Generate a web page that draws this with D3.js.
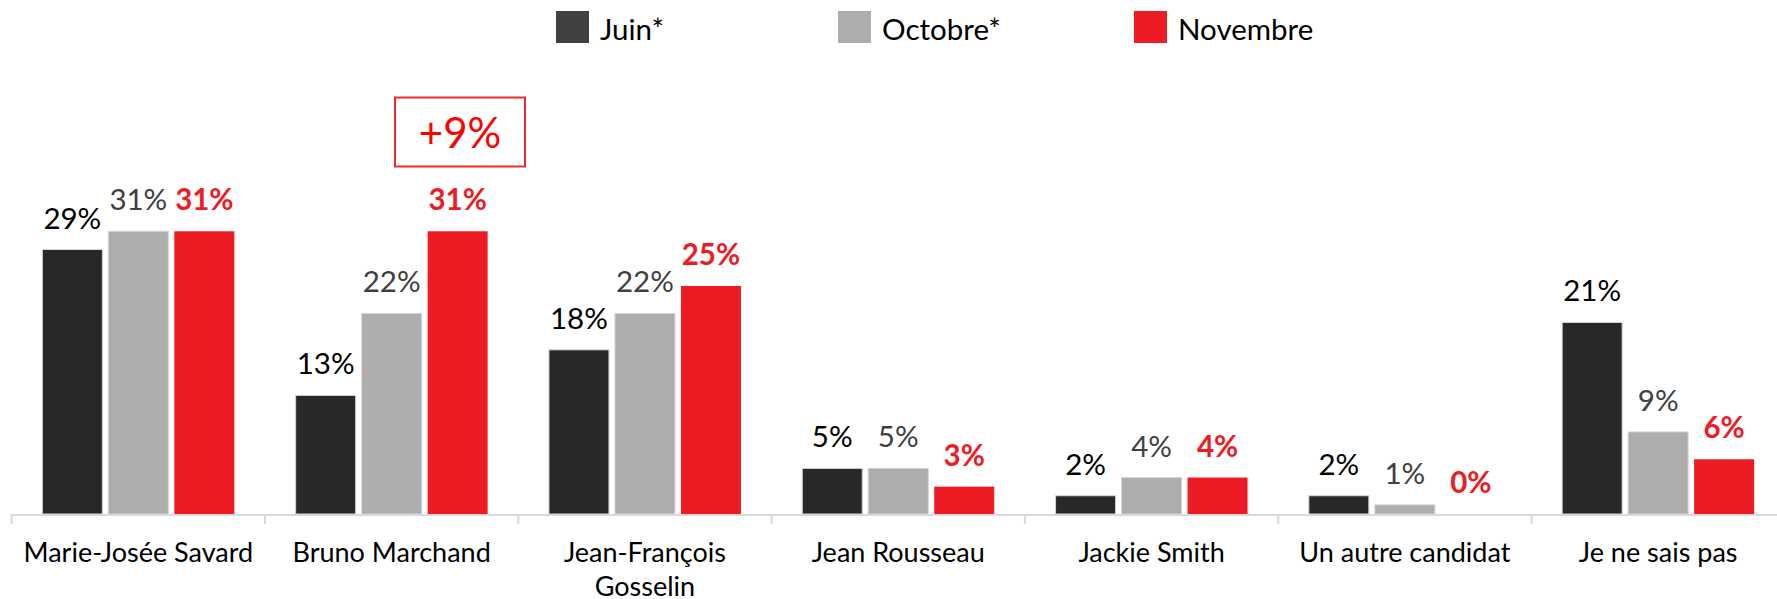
<!DOCTYPE html>
<html>
<head>
<meta charset="utf-8">
<script src="https://cdn.jsdelivr.net/npm/d3@7"></script>
<style>
  html, body { margin: 0; padding: 0; background: #fff; }
  svg { display: block; font-family: Lato, "Open Sans", sans-serif; }
</style>
</head>
<body>
<div id="chart"></div>
<script>
var width = 1777,
    height = 599;

// data
var categories = ["Marie-Josée Savard", "Bruno Marchand", "Jean-François Gosselin",
                  "Jean Rousseau", "Jackie Smith", "Un autre candidat", "Je ne sais pas"];
var seriesNames = ["Juin*", "Octobre*", "Novembre"];
var juin     = [29, 13, 18, 5, 2, 2, 21];
var octobre  = [31, 22, 22, 5, 4, 1, 9];
var novembre = [31, 31, 25, 3, 4, 0, 6];
var callout = { category: "Bruno Marchand", text: "+9%" };

var seriesValues = [juin, octobre, novembre];
var barColors   = ["#282828", "#adadad", "#ed1c24"];
var legendColors = ["#404040", "#adadad", "#ed1c24"];
var labelColors = ["#000000", "#404040", "#ed1c24"];
var labelWeights = ["normal", "normal", "bold"];

var baseY = 514,
    left = 11.7,
    step = 253.3;

var x = d3.scaleBand()
    .domain(categories)
    .range([left, left + step * categories.length]);

var xSub = d3.scaleBand()
    .domain(seriesNames)
    .range([0, x.bandwidth()])
    .paddingInner(6 / 66)
    .paddingOuter(0.4645);

var y = d3.scaleLinear()
    .domain([0, 31])
    .range([baseY, baseY - 31 * 9.12]);

var svg = d3.select("#chart").append("svg")
    .attr("width", width)
    .attr("height", height);

// legend
var legendX = [556, 838, 1134];
var legend = svg.append("g").attr("class", "legend")
    .selectAll("g")
    .data(seriesNames)
    .enter().append("g")
    .attr("transform", function(d, i) { return "translate(" + legendX[i] + ",11)"; });
legend.append("rect")
    .attr("width", 33)
    .attr("height", 32)
    .attr("fill", function(d, i) { return legendColors[i]; });
legend.append("text")
    .attr("x", 44)
    .attr("y", 29)
    .style("font-size", "29.5px")
    .attr("fill", "#000")
    .text(function(d) { return d; });

// bars
var rows = categories.map(function(c, ci) {
    return { name: c, values: seriesNames.map(function(s, si) {
        return { series: s, si: si, value: seriesValues[si][ci] };
    }) };
});

var groups = svg.append("g").selectAll("g")
    .data(rows)
    .enter().append("g")
    .attr("transform", function(d) { return "translate(" + x(d.name) + ",0)"; });

groups.selectAll("rect")
    .data(function(d) { return d.values.filter(function(v) { return v.value > 0; }); })
    .enter().append("rect")
    .attr("x", function(d) { return xSub(d.series); })
    .attr("width", xSub.bandwidth())
    .attr("y", function(d) { return y(d.value); })
    .attr("height", function(d) { return baseY - y(d.value); })
    .attr("fill", function(d) { return barColors[d.si]; })
    .attr("stroke", function(d) { return d.si < 2 ? "#d4d4d4" : "none"; })
    .attr("stroke-width", 1);

groups.selectAll("text")
    .data(function(d) { return d.values; })
    .enter().append("text")
    .attr("x", function(d) { return xSub(d.series) + xSub.bandwidth() / 2; })
    .attr("y", function(d) { return y(d.value) - 21; })
    .attr("text-anchor", "middle")
    .style("font-size", "29.5px")
    .style("font-weight", function(d) { return labelWeights[d.si]; })
    .attr("fill", function(d) { return labelColors[d.si]; })
    .text(function(d) { return d.value + "%"; });

// axis line with boundary ticks
var axis = svg.append("g").attr("class", "axis");
axis.append("line")
    .attr("x1", x.range()[0]).attr("x2", x.range()[1])
    .attr("y1", baseY + 1).attr("y2", baseY + 1)
    .attr("stroke", "#d9d9d9").attr("stroke-width", 2);
axis.selectAll("line.tick")
    .data(categories.concat([null]))
    .enter().append("line")
    .attr("class", "tick")
    .attr("x1", function(d) { return d ? x(d) : x.range()[1]; })
    .attr("x2", function(d) { return d ? x(d) : x.range()[1]; })
    .attr("y1", baseY).attr("y2", baseY + 10)
    .attr("stroke", "#d9d9d9").attr("stroke-width", 2);

axis.selectAll("text.cat")
    .data(categories)
    .enter().append("text")
    .attr("class", "cat")
    .attr("x", function(d) { return x(d) + x.bandwidth() / 2; })
    .attr("y", 562)
    .attr("text-anchor", "middle")
    .style("font-size", "27px")
    .attr("fill", "#000")
    .text(function(d) { return d; })
    .call(wrap, x.bandwidth() - 10);

function wrap(text, maxWidth) {
    text.each(function() {
        var t = d3.select(this),
            words = t.text().split(/\s+/),
            line = [],
            xPos = t.attr("x"),
            tspan = t.text(null).append("tspan").attr("x", xPos);
        words.forEach(function(w) {
            line.push(w);
            tspan.text(line.join(" "));
            if (tspan.node().getComputedTextLength() > maxWidth && line.length > 1) {
                line.pop();
                tspan.text(line.join(" "));
                line = [w];
                tspan = t.append("tspan").attr("x", xPos).attr("dy", "34px").text(w);
            }
        });
    });
}

// callout box above the Novembre bar
var box = svg.append("g").attr("class", "callout");
box.append("rect")
    .attr("x", x(callout.category) + 130)
    .attr("y", 97.5)
    .attr("width", 130)
    .attr("height", 69)
    .attr("fill", "none")
    .attr("stroke", "#ee2a2a")
    .attr("stroke-width", 2);
box.append("text")
    .attr("x", x(callout.category) + 195)
    .attr("y", 148)
    .attr("text-anchor", "middle")
    .style("font-size", "42px")
    .attr("fill", "#ff0000")
    .text(callout.text);
</script>
</body>
</html>
